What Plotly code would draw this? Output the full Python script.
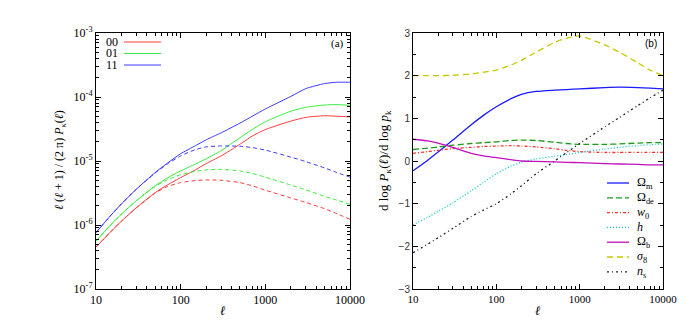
import plotly.graph_objects as go

# multipole grid shared by all curves
ell = [10, 15, 20, 30, 50, 70, 100, 150, 200, 300, 500, 700, 1000, 2000, 3000, 5000, 7000, 10000]

# panel (a): l(l+1)/(2pi) P_kappa(l), solid = full, dashed = second curve
pk_00 = [4.5e-7, 7.9e-7, 1.15e-6, 1.86e-6, 3.2e-6, 4.24e-6, 5.5e-6, 7.3e-6, 9.1e-6, 1.2e-5,
         1.82e-5, 2.45e-5, 3.1e-5, 4.2e-5, 4.8e-5, 5.1e-5, 5.0e-5, 4.9e-5]
pk_01 = [5.6e-7, 1.01e-6, 1.48e-6, 2.4e-6, 4.1e-6, 5.45e-6, 7.0e-6, 9.0e-6, 1.08e-5, 1.45e-5,
         2.3e-5, 3.1e-5, 4.1e-5, 6.0e-5, 6.9e-5, 7.5e-5, 7.6e-5, 7.4e-5]
pk_11 = [7.6e-7, 1.42e-6, 2.14e-6, 3.63e-6, 6.6e-6, 9.3e-6, 1.3e-5, 1.74e-5, 2.14e-5, 2.75e-5,
         3.9e-5, 5.0e-5, 6.5e-5, 1.02e-4, 1.35e-4, 1.62e-4, 1.7e-4, 1.7e-4]
pk_00_dash = [4.5e-7, 7.9e-7, 1.15e-6, 1.86e-6, 3.15e-6, 4.0e-6, 4.6e-6, 4.95e-6, 5.05e-6, 5.0e-6,
              4.6e-6, 4.1e-6, 3.5e-6, 2.65e-6, 2.25e-6, 1.8e-6, 1.5e-6, 1.23e-6]
pk_01_dash = [5.6e-7, 1.01e-6, 1.48e-6, 2.4e-6, 4.0e-6, 5.1e-6, 6.1e-6, 6.9e-6, 7.25e-6, 7.4e-6,
              7.0e-6, 6.4e-6, 5.6e-6, 4.2e-6, 3.55e-6, 2.8e-6, 2.45e-6, 2.1e-6]
pk_11_dash = [7.6e-7, 1.42e-6, 2.14e-6, 3.63e-6, 6.5e-6, 9.0e-6, 1.2e-5, 1.51e-5, 1.66e-5, 1.72e-5,
              1.7e-5, 1.62e-5, 1.48e-5, 1.15e-5, 9.8e-6, 7.8e-6, 6.6e-6, 5.6e-6]

# panel (b): d log P / d log p for each parameter
d_om = [-0.23, 0.02, 0.21, 0.49, 0.85, 1.07, 1.27, 1.46, 1.56, 1.63, 1.66, 1.675, 1.69, 1.72, 1.73, 1.72, 1.71, 1.69]
d_ode = [0.27, 0.3, 0.33, 0.37, 0.41, 0.43, 0.45, 0.48, 0.49, 0.48, 0.44, 0.41, 0.39, 0.39, 0.4, 0.42, 0.43, 0.43]
d_w0 = [0.18, 0.22, 0.25, 0.29, 0.32, 0.34, 0.35, 0.36, 0.35, 0.33, 0.29, 0.25, 0.22, 0.2, 0.2, 0.2, 0.2, 0.2]
d_h = [-1.5, -1.32, -1.18, -0.98, -0.7, -0.5, -0.3, -0.12, -0.03, 0.05, 0.11, 0.15, 0.2, 0.28, 0.32, 0.36, 0.38, 0.4]
d_ob = [0.51, 0.47, 0.42, 0.32, 0.18, 0.12, 0.08, 0.03, 0.0, -0.01, -0.02, -0.03, -0.04, -0.06, -0.07, -0.08, -0.09, -0.09]
d_s8 = [2.0, 2.0, 2.0, 2.01, 2.04, 2.08, 2.13, 2.25, 2.36, 2.55, 2.78, 2.88, 2.93, 2.72, 2.55, 2.3, 2.13, 2.0]
d_ns = [-2.15, -1.95, -1.8, -1.58, -1.3, -1.15, -1.0, -0.77, -0.58, -0.3, 0.0, 0.2, 0.41, 0.8, 1.02, 1.3, 1.48, 1.66]

pk_names = ["00", "01", "11"]
pk_colors = ["#ff3b3b", "#3bee3b", "#3b3bff"]

par_names = ["Ω<sub>m</sub>", "Ω<sub>de</sub>", "<i>w</i><sub>0</sub>", "<i>h</i>",
             "Ω<sub>b</sub>", "<i>σ</i><sub>8</sub>", "<i>n</i><sub>s</sub>"]
par_colors = ["#1a1aff", "#1f9a1f", "#ff3030", "#11c8d0", "#c010c0", "#c8c800", "#222222"]
par_dash = ["solid", "6px,3px", "3px,2px,1px,2px", "1px,2px", "solid", "6px,4px", "2px,3px,1px,3px"]

W, H = 695, 322
OFF = 8  # the page body adds an 8px margin, so positions are shifted back by it
SERIF = "Liberation Serif, Times New Roman, serif"
SANS = "Liberation Sans, Arial, sans-serif"


def px(x):
    return (x - OFF) / W


def py(y):
    return (H - (y - OFF)) / H


fig = go.Figure()

for ys, yd, c in zip([pk_00, pk_01, pk_11], [pk_00_dash, pk_01_dash, pk_11_dash], pk_colors):
    fig.add_trace(go.Scatter(x=ell, y=ys, mode="lines",
                             line=dict(color=c, width=1, shape="spline", smoothing=0.6),
                             showlegend=False, xaxis="x", yaxis="y"))
    fig.add_trace(go.Scatter(x=ell, y=yd, mode="lines",
                             line=dict(color=c, width=1, dash="4px,3px", shape="spline", smoothing=0.6),
                             showlegend=False, xaxis="x", yaxis="y"))

for ys, c, d in zip([d_om, d_ode, d_w0, d_h, d_ob, d_s8, d_ns], par_colors, par_dash):
    fig.add_trace(go.Scatter(x=ell, y=ys, mode="lines",
                             line=dict(color=c, width=1.3, dash=d, shape="spline", smoothing=0.6),
                             showlegend=False, xaxis="x2", yaxis="y2"))

minor_x = [m * 10 ** k for k in range(1, 4) for m in range(2, 10)]
minor_y = [m * 10.0 ** k for k in range(-7, -3) for m in range(2, 10)]
minor_y2 = [-2.5, -1.5, -0.5, 0.5, 1.5, 2.5]

axis_common = dict(showline=True, linecolor="black", linewidth=1, mirror="allticks", ticks="inside",
                   ticklen=5, tickcolor="black", showgrid=False, zeroline=False, automargin=False,
                   tickfont=dict(family=SERIF, size=12, color="black"))

fig.update_layout(
    width=W, height=H, autosize=False,
    margin=dict(l=0, r=0, t=0, b=0, pad=0, autoexpand=False),
    paper_bgcolor="white", plot_bgcolor="white",
    font=dict(family=SERIF, color="black"),
    xaxis=dict(axis_common, type="log", range=[1, 4], domain=[px(96), px(350)], anchor="y",
               tickvals=[10, 100, 1000, 10000], ticktext=["10", "100", "1000", "10000"],
               minor=dict(ticks="inside", ticklen=3, tickcolor="black", tickvals=minor_x)),
    yaxis=dict(axis_common, type="log", range=[-7, -3], domain=[py(289), py(33)], anchor="x",
               tickvals=[1e-7, 1e-6, 1e-5, 1e-4, 1e-3],
               ticktext=["10<sup>-7</sup>", "10<sup>-6</sup>", "10<sup>-5</sup>", "10<sup>-4</sup>", "10<sup>-3</sup>"],
               minor=dict(ticks="inside", ticklen=3, tickcolor="black", tickvals=minor_y)),
    xaxis2=dict(axis_common, type="log", range=[1, 4], domain=[px(413), px(663)], anchor="y2",
                tickvals=[10, 100, 1000, 10000], ticktext=["10", "100", "1000", "10000"],
                tickfont=dict(family=SERIF, size=11, color="black"),
                minor=dict(ticks="inside", ticklen=3, tickcolor="black", tickvals=minor_x)),
    yaxis2=dict(axis_common, range=[-3, 3], dtick=1, domain=[py(289), py(33)], anchor="x2",
                tickfont=dict(family=SANS, size=10, color="#333333"),
                minor=dict(ticks="inside", ticklen=3, tickcolor="black", tickvals=minor_y2)),
)

# axis titles placed as annotations so they sit where the reference has them
annotations = [
    dict(x=px(223), y=py(310), text="<i>ℓ</i>", font=dict(family=SERIF, size=13)),
    dict(x=px(538), y=py(310), text="<i>ℓ</i>", font=dict(family=SERIF, size=13)),
    dict(x=px(60), y=py(160), textangle=-90,
         text="<i>ℓ</i> (<i>ℓ</i> + 1) / (2 π) <i>P</i><sub>κ</sub>(<i>ℓ</i>)",
         font=dict(family=SERIF, size=12)),
    dict(x=px(385), y=py(161), textangle=-90,
         text="d log <i>P</i><sub>κ</sub>(<i>ℓ</i>)/d log <i>p</i><sub>k</sub>",
         font=dict(family=SERIF, size=13)),
    dict(x=px(346), y=py(43), text="(a)", xanchor="right", font=dict(family=SERIF, size=11)),
    dict(x=px(659), y=py(43), text="(b)", xanchor="right", font=dict(family=SANS, size=10)),
]
shapes = []

# legend of panel (a): label first, line sample after
for i, (name, c) in enumerate(zip(pk_names, pk_colors)):
    yy = py(42 + 11.5 * i)
    annotations.append(dict(x=px(120), y=yy, text=name, xanchor="right",
                            font=dict(family=SERIF, size=12)))
    shapes.append(dict(type="line", xref="paper", yref="paper", x0=px(124), x1=px(161), y0=yy, y1=yy,
                       line=dict(color=c, width=1)))

# legend of panel (b)
for i, (name, c, d) in enumerate(zip(par_names, par_colors, par_dash)):
    yy = py(183 + 14.8 * i)
    annotations.append(dict(x=px(635), y=yy, text=name, xanchor="left",
                            font=dict(family=SERIF, size=12)))
    shapes.append(dict(type="line", xref="paper", yref="paper", x0=px(607), x1=px(629), y0=yy, y1=yy,
                       line=dict(color=c, width=1.3, dash=d)))

for a in annotations:
    a.update(xref="paper", yref="paper", showarrow=False, yanchor="middle")
    a.setdefault("xanchor", "center")

fig.update_layout(annotations=annotations, shapes=shapes)

fig.write_html("out.html")
